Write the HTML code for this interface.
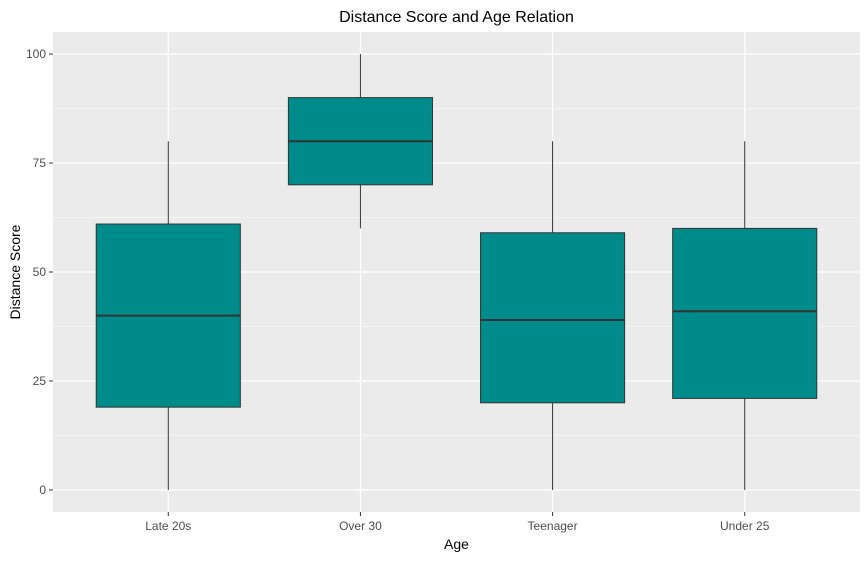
<!DOCTYPE html>
<html><head><meta charset="utf-8"><style>
body{margin:0;background:#fff;font-family:"Liberation Sans",Arial,sans-serif}
svg text{font-family:"Liberation Sans",Arial,sans-serif}
</style></head><body>
<svg id="c" width="867" height="558" xmlns="http://www.w3.org/2000/svg"></svg>
<script>
const categories=["Late 20s","Over 30","Teenager","Under 25"];
const mins=[0,60,0,0];
const q1s=[19,70,20,21];
const medians=[40,80,39,41];
const q3s=[61,90,59,60];
const maxs=[80,100,80,80];
const yTicks=[0,25,50,75,100];
const L=53,R=860,T=32,B=512;
const step=(R-L)/4.2;
const x=i=>L+(i+0.6)*step;
const y=v=>490-v*4.36;
const svg=document.getElementById('c');
const NS="http://www.w3.org/2000/svg";
function mk(t,a,p){const e=document.createElementNS(NS,t);for(const k in a)e.setAttribute(k,a[k]);(p||svg).appendChild(e);return e;}
const panel=mk('rect',{x:L,y:T,width:R-L,height:B-T,fill:'#EBEBEB'});


for(let i=0;i<yTicks.length-1;i++){const v=(yTicks[i]+yTicks[i+1])/2;
const g=mk('line',{x1:L,x2:R,y1:y(v),y2:y(v),stroke:'#fff','stroke-width':0.6});

}
yTicks.forEach(v=>{const g=mk('line',{x1:L,x2:R,y1:y(v),y2:y(v),stroke:'#fff','stroke-width':1.2});


const tk=mk('line',{x1:L-4,x2:L,y1:y(v),y2:y(v),stroke:'#333','stroke-width':1});


const t=mk('text',{x:L-7,y:y(v)+4,'text-anchor':'end','font-size':12,fill:'#4d4d4d'});t.textContent=v;

});
categories.forEach((c,i)=>{const cx=x(i);
const g=mk('line',{x1:cx,x2:cx,y1:T,y2:B,stroke:'#fff','stroke-width':1.2});


const tk=mk('line',{x1:cx,x2:cx,y1:B,y2:B+4,stroke:'#333','stroke-width':1});


const t=mk('text',{x:cx,y:B+18,'text-anchor':'middle','font-size':12,fill:'#4d4d4d'});t.textContent=c;

});
categories.forEach((c,i)=>{const cx=x(i),w=step*0.75;
const grp=mk('g',{});


mk('line',{x1:cx,x2:cx,y1:y(maxs[i]),y2:y(q3s[i]),stroke:'#333','stroke-width':1},grp);
mk('line',{x1:cx,x2:cx,y1:y(q1s[i]),y2:y(mins[i]),stroke:'#333','stroke-width':1},grp);
mk('rect',{x:cx-w/2,y:y(q3s[i]),width:w,height:y(q1s[i])-y(q3s[i]),fill:'#008B8B',stroke:'#333','stroke-width':1},grp);
mk('line',{x1:cx-w/2,x2:cx+w/2,y1:y(medians[i]),y2:y(medians[i]),stroke:'#333','stroke-width':2},grp);});
let t=mk('text',{x:(L+R)/2,y:22,'text-anchor':'middle','font-size':16,fill:'#000'});t.textContent='Distance Score and Age Relation';


t=mk('text',{x:(L+R)/2,y:549,'text-anchor':'middle','font-size':14,fill:'#000'});t.textContent='Age';


t=mk('text',{x:20,y:272,'text-anchor':'middle','font-size':14,fill:'#000',transform:'rotate(-90 20 272)'});t.textContent='Distance Score';


</script>
</body></html>
